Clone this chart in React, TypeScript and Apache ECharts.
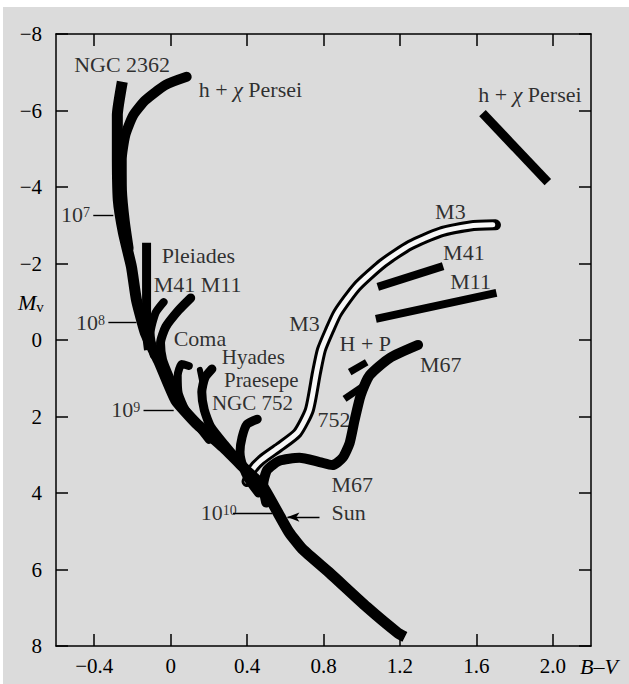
import React, { useEffect, useRef } from 'react';
import * as echarts from 'echarts';

// axis ticks
const xTicks = [-0.4, 0, 0.4, 0.8, 1.2, 1.6, 2.0];

// main sequence (ZAMS) envelope, [B-V, Mv]
const zams = [[-0.253, -6.75], [-0.279, -5.88], [-0.279, -4.97], [-0.274, -3.66], [-0.247, -2.8], [-0.205, -1.91], [-0.179, -1.05], [-0.132, -0.18], [-0.058, 0.6], [0.026, 1.57], [0.132, 2.17], [0.274, 2.8], [0.395, 3.4], [0.484, 3.84], [0.574, 4.63], [0.62, 5.03], [0.69, 5.47], [0.832, 6.09], [1.026, 6.98], [1.189, 7.66], [1.226, 7.76]];

// cluster turn-off branches
const hChiLeft = [[0.084, -6.88], [-0.026, -6.67], [-0.132, -6.27], [-0.195, -5.88], [-0.237, -5.36], [-0.256, -4.71], [-0.255, -3.92], [-0.24, -3.1], [-0.22, -2.4]];
const pleiades = [[-0.126, -2.54], [-0.126, -0.13], [-0.116, 0.26]];
const m41Branch = [[-0.037, -0.99], [-0.079, -0.71], [-0.105, -0.18], [-0.089, 0.39]];
const m11Branch = [[0.105, -1.1], [0.042, -0.78], [-0.026, -0.34], [-0.053, 0.08], [-0.042, 0.52], [0.0, 1.05], [0.05, 1.6]];
const hyades = [[0.095, 0.68], [0.058, 0.63], [0.037, 0.92], [0.042, 1.39], [0.079, 1.83], [0.132, 2.17], [0.2, 2.61]];
const praesepe = [[0.216, 0.76], [0.179, 0.99], [0.163, 1.36], [0.176, 1.83], [0.21, 2.27], [0.285, 2.75], [0.36, 3.2]];
const praesepeProng = [[0.153, 0.78], [0.168, 1.15]];
const ngc752 = [[0.453, 2.07], [0.4, 2.2], [0.374, 2.54], [0.363, 2.93], [0.379, 3.32], [0.41, 3.66], [0.46, 4.0]];
const m67 = [[0.5, 4.25], [0.484, 3.79], [0.505, 3.4], [0.568, 3.16], [0.674, 3.08], [0.779, 3.19], [0.847, 3.27], [0.9, 3.08], [0.937, 2.69], [0.963, 2.09], [0.995, 1.44], [1.042, 0.92], [1.147, 0.47], [1.295, 0.13]];
const m3 = [[0.4, 3.7], [0.426, 3.4], [0.474, 3.14], [0.568, 2.8], [0.663, 2.43], [0.726, 1.83], [0.763, 0.86], [0.789, 0.26], [0.832, -0.26], [0.874, -0.71], [0.974, -1.39], [1.111, -2.01], [1.253, -2.48], [1.411, -2.82], [1.568, -2.98], [1.7, -3.01]];

// giant-branch segments
const hpGiants = [[0.937, 0.84], [1.026, 0.58]];
const giants752 = [[0.91, 1.54], [1.016, 1.18]];
const m41Giants = [[1.084, -1.39], [1.426, -1.93]];
const m11Giants = [[1.074, -0.55], [1.705, -1.23]];
const hChiRight = [[1.632, -5.93], [1.974, -4.13]];

// age marks: [fromBV, toBV, Mv]
const ageMarks = [[-0.405, -0.3, -3.27], [-0.326, -0.179, -0.47], [-0.142, 0.016, 1.83], [0.326, 0.532, 4.52]];
const sunArrow = [0.779, 0.611, 4.63];

// annotations: [text, B-V, Mv, fontSize]
const labels: [string, number, number, number][] = [
  ['NGC 2362', -0.505, -7.19, 22],
  ['h + {i|χ} Persei', 0.147, -6.54, 22],
  ['h + {i|χ} Persei', 1.61, -6.41, 22],
  ['10{s|7}', -0.574, -3.27, 22],
  ['Pleiades', -0.047, -2.22, 22],
  ['M41 M11', -0.089, -1.46, 22],
  ['10{s|8}', -0.495, -0.47, 22],
  ['Coma', 0.016, -0.05, 22],
  ['M3', 0.621, -0.42, 22],
  ['Hyades', 0.268, 0.45, 21],
  ['Praesepe', 0.279, 1.05, 21],
  ['NGC 752', 0.216, 1.65, 21],
  ['10{s|9}', -0.311, 1.83, 22],
  ['H + P', 0.884, 0.1, 22],
  ['M67', 1.305, 0.65, 22],
  ['752', 0.768, 2.07, 22],
  ['M67', 0.842, 3.79, 22],
  ['10{s|10}', 0.158, 4.5, 22],
  ['Sun', 0.842, 4.52, 22],
  ['M3', 1.384, -3.35, 22],
  ['M41', 1.426, -2.3, 22],
  ['M11', 1.463, -1.52, 22],
];

const FONT = "'Liberation Serif', 'Times New Roman', serif";
const BG = '#dbdbdb';

function line(data: number[][], width: number, opts: any = {}) {
  return {
    type: 'line',
    data,
    showSymbol: false,
    symbol: 'none',
    silent: true,
    smooth: opts.smooth ?? 0.2,
    lineStyle: { color: opts.color ?? '#000', width, cap: opts.cap ?? 'round', join: 'round' },
    z: 3,
  };
}

export default function App() {
  const ref = useRef<HTMLDivElement>(null);
  useEffect(() => {
    const chart = echarts.init(ref.current!, null, { renderer: 'svg' });
    const axisCommon = {
      type: 'value',
      min: -0.6,
      max: 2.2,
      axisLine: { show: true, onZero: false, lineStyle: { color: '#000', width: 1.5 } },
      axisTick: { show: true, inside: true, length: 12, customValues: xTicks, lineStyle: { color: '#000', width: 1.5 } },
      splitLine: { show: false },
    };
    const yCommon = {
      type: 'value',
      inverse: true,
      min: -8,
      max: 8,
      interval: 2,
      axisLine: { show: true, onZero: false, lineStyle: { color: '#000', width: 1.5 } },
      axisTick: { show: true, inside: true, length: 12, lineStyle: { color: '#000', width: 1.5 } },
      splitLine: { show: false },
    };
    const m3Inner = m3.map((p, i) => (i === m3.length - 1 ? [p[0] - 0.014, p[1]] : p));
    const option: any = {
      animation: false,
      backgroundColor: BG,
      grid: { left: 53, right: 38, top: 27, bottom: 38 },
      xAxis: [
        {
          ...axisCommon,
          position: 'bottom',
          axisLabel: {
            customValues: xTicks,
            margin: 9,
            color: '#000',
            fontSize: 21,
            fontFamily: FONT,
            formatter: (v: number) => (Math.abs(v) < 1e-9 ? '0' : v < 0 ? '−' + Math.abs(v).toFixed(1) : v.toFixed(1)),
          },
        },
        { ...axisCommon, position: 'top', axisLabel: { show: false } },
      ],
      yAxis: [
        {
          ...yCommon,
          position: 'left',
          axisLabel: {
            margin: 14,
            color: '#000',
            fontSize: 21,
            fontFamily: FONT,
            formatter: (v: number) => (v < 0 ? '−' + Math.abs(v) : String(v)),
          },
        },
        { ...yCommon, position: 'right', axisLabel: { show: false } },
      ],
      graphic: [
        {
          type: 'text',
          x: 15,
          y: 295,
          style: {
            text: '{m|M}{v|v}',
            verticalAlign: 'middle',
            rich: {
              m: { fontFamily: FONT, fontSize: 22, fontStyle: 'italic', lineHeight: 24, fill: '#000' },
              v: { fontFamily: FONT, fontSize: 15, lineHeight: 15, verticalAlign: 'bottom', fill: '#000' },
            },
          },
        },
        {
          type: 'text',
          x: 577,
          y: 659,
          style: { text: 'B–V', fontFamily: FONT, fontSize: 22, fontStyle: 'italic', fill: '#000', verticalAlign: 'middle' },
        },
      ],
      series: [
        line(m3, 11),
        line(m3Inner, 5, { color: '#f7f7f7' }),
        line(zams, 11, { smooth: 0.15, cap: 'butt' }),
        line(hChiLeft, 10),
        line(pleiades, 9, { cap: 'butt', smooth: false }),
        line(m41Branch, 8),
        line(m11Branch, 9),
        line(hyades, 8),
        line(praesepe, 9),
        line(praesepeProng, 6),
        line(ngc752, 9),
        line(m67, 10),
        line(hpGiants, 7, { cap: 'butt', smooth: false }),
        line(giants752, 7, { cap: 'butt', smooth: false }),
        line(m41Giants, 8, { cap: 'butt', smooth: false }),
        line(m11Giants, 8, { cap: 'butt', smooth: false }),
        line(hChiRight, 9, { cap: 'butt', smooth: false }),
        {
          type: 'scatter',
          symbolSize: 0,
          silent: true,
          z: 5,
          data: labels.map((l) => ({
            value: [l[1], l[2]],
            label: { formatter: l[0], fontSize: l[3], lineHeight: l[3] - 4 },
          })),
          label: {
            show: true,
            position: 'inside',
            align: 'left',
            verticalAlign: 'middle',
            color: '#000',
            fontSize: 22,
            lineHeight: 18,
            fontFamily: FONT,
            rich: {
              s: { fontSize: 14, lineHeight: 2, verticalAlign: 'top', fontFamily: FONT, color: '#000' },
              i: { fontSize: 22, lineHeight: 18, fontStyle: 'italic', fontFamily: FONT, color: '#000' },
            },
          },
          markLine: {
            silent: true,
            symbol: 'none',
            animation: false,
            lineStyle: { color: '#000', width: 1.4, type: 'solid' },
            label: { show: false },
            emphasis: { disabled: true },
            data: [
              ...ageMarks.map((m) => [{ coord: [m[0], m[2]] }, { coord: [m[1], m[2]] }]),
              [
                { coord: [sunArrow[0], sunArrow[2]], symbol: 'none' },
                { coord: [sunArrow[1], sunArrow[2]], symbol: 'arrow', symbolSize: [7, 12] },
              ],
            ],
          },
        },
      ],
    };
    chart.setOption(option);
    return () => chart.dispose();
  }, []);
  return (
    <div
      ref={ref}
      style={{ position: 'fixed', left: 3, top: 7, width: 626, height: 677 }}
    />
  );
}
